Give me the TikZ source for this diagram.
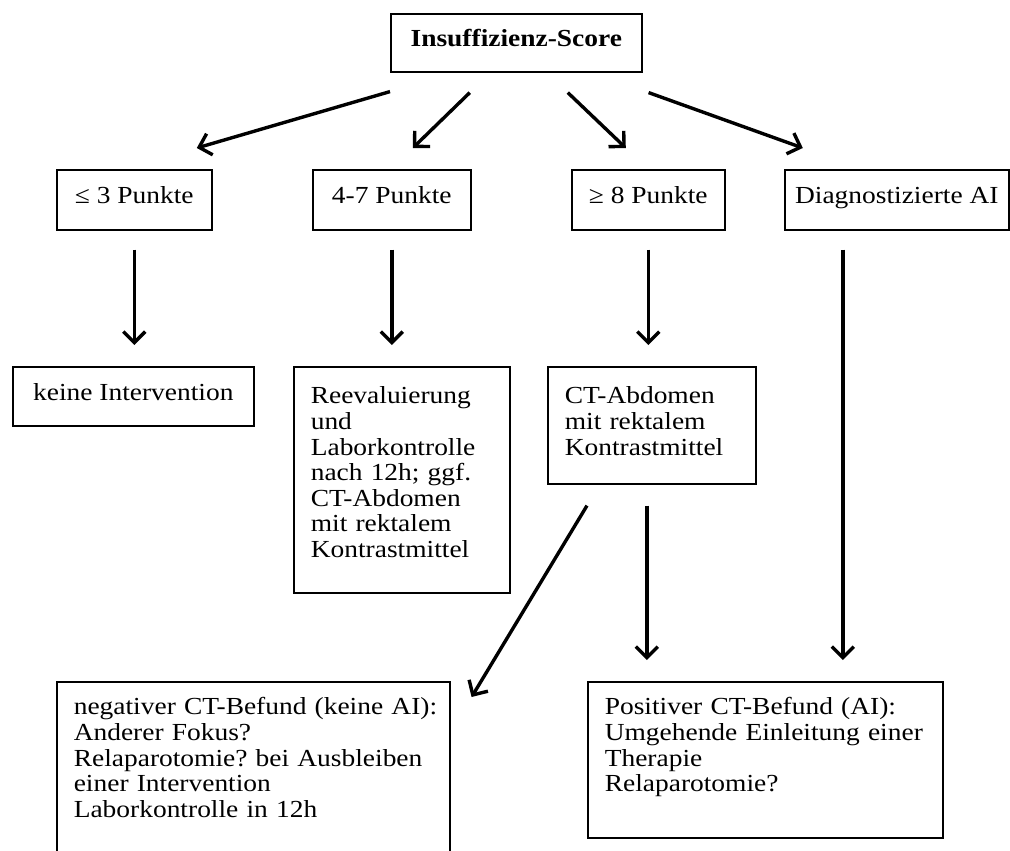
\documentclass[tikz,border=0pt]{standalone}
\usepackage{fontspec}
\setmainfont{Liberation Serif}[FakeStretch=1.12]
\usetikzlibrary{arrows.meta}

\tikzset{
  box/.style={draw=black,line width=1.6pt,anchor=north west,inner sep=0pt,
    text height=17pt,text depth=9pt,align=center},
  multibox/.style={draw=black,line width=1.6pt,anchor=north west,inner xsep=17pt,
    inner ysep=20pt,text height=17pt,align=left},
  arr/.style={color=black,line width=3.4pt,-{Straight Barb[length=11pt,width=22pt]}}
}

\begin{document}
\frenchspacing
\fontsize{24.5pt}{25.6pt}\selectfont
\begin{tikzpicture}[x=1pt,y=-1pt]
            \useasboundingbox (0,0) rectangle (1010,851);
            %\node[box] at (500,120) {};
            \node[box,minimum width=251pt,minimum height=58pt] (score) at (390,13) {\textbf{Insuffizienz-Score}};
            \node[box,minimum width=155pt,minimum height=60pt] (low) at (56,169) {≤ 3 Punkte};
            \node[box,minimum width=158pt,minimum height=60pt] (mid) at (312,169) {4-7 Punkte};
            \node[box,minimum width=153pt,minimum height=60pt] (high) at (571,169) {≥ 8 Punkte};
            \node[box,minimum width=224pt,minimum height=60pt] (diag) at (784,169) {Diagnostizierte AI};
            \node[box,minimum width=241pt,minimum height=59pt] (none) at (12,366) {keine Intervention};
            \node[multibox,text width=182pt,text depth=169pt] (reeval) at (293,366) {Reevaluierung\\ und\\ Laborkontrolle\\ nach 12h; ggf.\\ CT-Abdomen\\ mit rektalem\\ Kontrastmittel};
            \node[multibox,text width=174pt,text depth=60pt] (ct) at (547,366) {CT-Abdomen\\ mit rektalem\\ Kontrastmittel};
            \node[multibox,inner ysep=16pt,text width=359pt,text depth=200pt] (neg) at (56,681) {\mbox{negativer CT-Befund (keine AI):}\\ Anderer Fokus?\\ \mbox{Relaparotomie? bei Ausbleiben}\\ einer Intervention\\ Laborkontrolle in 12h};
            \node[multibox,inner ysep=16pt,text width=321pt,text depth=107pt] (pos) at (587,681) {Positiver CT-Befund (AI):\\ \mbox{Umgehende Einleitung einer}\\ Therapie\\ Relaparotomie?};
            \draw[arr] ([yshift=-19pt]score.south west) to ([xshift=62.5pt,yshift=21pt]low.north);
            \draw[arr] ([xshift=-46.5pt,yshift=-20pt]score.south) to ([xshift=21pt,yshift=21pt]mid.north);
            \draw[arr] ([xshift=51.5pt,yshift=-20pt]score.south) to ([xshift=-22.5pt,yshift=21pt]high.north);
            \draw[arr] ([xshift=6pt,yshift=-20pt]score.south east) to ([xshift=-94pt,yshift=21pt]diag.north);
            \draw[arr] ([yshift=-19pt]low.south) to ([yshift=21pt]low.south |- none.north);
            \draw[arr] ([yshift=-19pt]mid.south) to ([yshift=21pt]mid.south |- reeval.north);
            \draw[arr] ([yshift=-19pt]high.south) to ([yshift=21pt]high.south |- ct.north);
            \draw[arr] ([xshift=-54pt,yshift=-19pt]diag.south) coordinate (diagout) to ([yshift=21pt]diagout |- pos.north);
            \draw[arr] ([xshift=40pt,yshift=-21pt]ct.south west) to ([xshift=21pt,yshift=-16pt]neg.north east);
            \draw[arr] ([xshift=-5pt,yshift=-21pt]ct.south) coordinate (ctout) to ([yshift=21pt]ctout |- pos.north);
        \end{tikzpicture}
\end{document}
